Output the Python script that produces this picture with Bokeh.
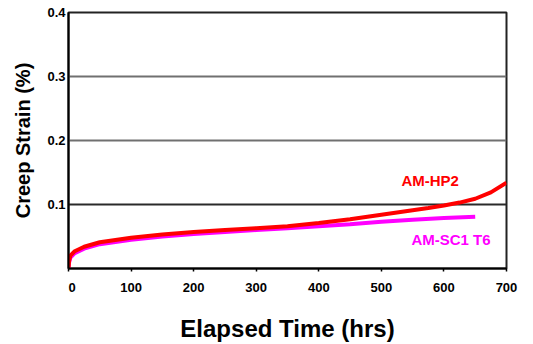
from bokeh.plotting import figure
from bokeh.embed import file_html
from bokeh.resources import INLINE
from bokeh.models import Range1d, FixedTicker, Label, Grid

# Data
hp2_time = [0, 1, 3, 10, 25, 50, 100, 150, 200, 250, 300, 350, 400, 450, 475, 500, 525, 550,
            575, 600, 625, 650, 675, 700]
hp2_strain = [0, 0.012, 0.020, 0.027, 0.034, 0.041, 0.048, 0.053, 0.057, 0.060, 0.063, 0.066,
              0.071, 0.077, 0.0805, 0.084, 0.0875, 0.091, 0.0945, 0.0985, 0.103, 0.109, 0.119,
              0.134]
sc1_time = [0, 1, 3, 10, 25, 50, 100, 150, 200, 250, 300, 350, 400, 450, 500, 550, 600, 650]
sc1_strain = [0, 0.010, 0.017, 0.024, 0.031, 0.038, 0.045, 0.050, 0.054, 0.057, 0.060, 0.063,
              0.066, 0.069, 0.073, 0.076, 0.079, 0.081]
x_ticks = [0, 100, 200, 300, 400, 500, 600, 700]
y_ticks = [0, 0.1, 0.2, 0.3, 0.4]
series_labels = ["AM-HP2", "AM-SC1 T6"]

FONT = "Liberation Sans"

p = figure(width=533, height=344, output_backend="svg", toolbar_location=None,
           x_range=Range1d(0, 700), y_range=Range1d(0, 0.4),
           min_border_left=68, min_border_right=27, min_border_top=12, min_border_bottom=72)
p.background_fill_color = "white"
p.border_fill_color = "white"
p.outline_line_color = "#222222"
p.outline_line_width = 2

p.xgrid.visible = False
p.ygrid.grid_line_color = "#707070"
p.ygrid.grid_line_width = 2
p.ygrid.ticker = FixedTicker(ticks=y_ticks[2:4])
g1 = Grid(dimension=1, ticker=FixedTicker(ticks=y_ticks[1:2]),
          grid_line_color="#2a2a2a", grid_line_width=2)
p.add_layout(g1)

p.xaxis.ticker = FixedTicker(ticks=x_ticks)
p.yaxis.ticker = FixedTicker(ticks=y_ticks)
p.xaxis.major_label_overrides = {0: "\u00a0\u00a00"}
p.yaxis.major_label_overrides = {0: ""}

for ax in (p.xaxis, p.yaxis):
    ax.axis_line_color = "black"
    ax.axis_line_width = 2
    ax.major_label_text_font = FONT
    ax.major_label_text_font_style = "bold"
    ax.major_label_text_font_size = "13px"
    ax.major_label_text_color = "black"
    ax.axis_label_text_font = FONT
    ax.axis_label_text_font_style = "bold"
    ax.axis_label_text_color = "black"
    ax.minor_tick_line_color = None
    ax.major_tick_in = 0

p.xaxis.major_tick_out = 3
p.xaxis.major_tick_line_color = "black"
p.xaxis.major_tick_line_width = 1.5
p.xaxis.major_label_standoff = 8
p.yaxis.major_tick_out = 0
p.yaxis.major_label_standoff = 3

p.xaxis.axis_label = "Elapsed Time (hrs)"
p.xaxis.axis_label_text_font_size = "24px"
p.xaxis.axis_label_standoff = 17
p.yaxis.axis_label = "Creep Strain (%)"
p.yaxis.axis_label_text_font_size = "20px"
p.yaxis.axis_label_standoff = 10

p.line(sc1_time, sc1_strain, line_color="#FF00FF", line_width=4)
p.line(hp2_time, hp2_strain, line_color="#FF0000", line_width=4)

p.add_layout(Label(x=0, y=0, text="0", x_offset=-5, y_offset=-1, text_font=FONT,
                   text_font_size="9px", text_color="#808080", text_align="right",
                   text_baseline="bottom"))
p.add_layout(Label(x=532, y=0.137, text=series_labels[0], text_font=FONT,
                   text_font_style="bold", text_font_size="15px", text_color="#FF0000",
                   text_baseline="middle"))
p.add_layout(Label(x=548, y=0.046, text=series_labels[1], text_font=FONT,
                   text_font_style="bold", text_font_size="15px", text_color="#FF00FF",
                   text_baseline="middle"))

open("out.html", "w").write(file_html(p, INLINE))
